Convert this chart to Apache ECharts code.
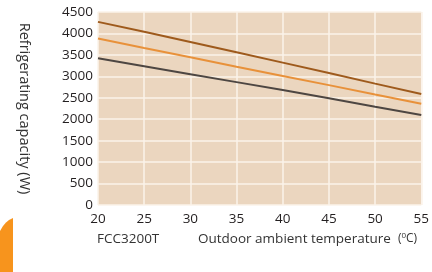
<!DOCTYPE html>
<html><head><meta charset="utf-8">
<script src="https://cdn.jsdelivr.net/npm/echarts@6/dist/echarts.min.js"></script>
<style>html,body{margin:0;padding:0;background:#fff}#c{width:432px;height:272px}</style>
</head><body><div id="c"></div>
<script>
const temps = [20, 25, 30, 35, 40, 45, 50, 55];
const seriesTop = [4270, 4040, 3800, 3560, 3320, 3080, 2830, 2590];
const seriesMid = [3880, 3660, 3445, 3225, 3010, 2795, 2575, 2360];
const seriesLow = [3420, 3235, 3050, 2865, 2680, 2490, 2290, 2100];
const yName = 'Refrigerating capacity (W)';
const modelName = 'FCC3200T';

function pts(arr){ return temps.map((t,i)=>[t, arr[i]]); }
const chart = echarts.init(document.getElementById('c'), null, {renderer:'canvas'});
const font = '"Open Sans", sans-serif';
chart.setOption({
  animation:false,
  backgroundColor:'#fff',
  grid:{left:98, right:5, top:12, bottom:67, show:true, backgroundColor:'#ebd6bf', borderWidth:0},
  xAxis:{type:'value', min:20, max:55, interval:5,
    axisLine:{show:false}, axisTick:{show:false},
    axisLabel:{color:'#231f20', fontSize:13.5, fontFamily:font, margin:7},
    splitLine:{show:true, lineStyle:{color:'#fbf3ea', width:1.5}}},
  yAxis:{type:'value', min:0, max:4500, interval:500,
    name:yName, nameLocation:'middle', nameRotate:-90, nameGap:66,
    nameTextStyle:{color:'#333', fontSize:14.5, fontFamily:font},
    axisLine:{show:false}, axisTick:{show:false},
    axisLabel:{color:'#231f20', fontSize:13.5, fontFamily:font, margin:5, formatter:v=>String(v)},
    splitLine:{show:true, lineStyle:{color:'#fbf3ea', width:1.5}}},
  series:[
    {type:'line', data:pts(seriesTop), symbol:'none', lineStyle:{color:'#9e5a1c', width:2}},
    {type:'line', data:pts(seriesMid), symbol:'none', lineStyle:{color:'#e8913a', width:2}},
    {type:'line', data:pts(seriesLow), symbol:'none', lineStyle:{color:'#4d4642', width:2}}
  ],
  graphic:[
    {type:'polygon', shape:{points:[[0,231],[3,226],[6,222.5],[9,220],[13,218],[13,272],[0,272]]}, style:{fill:'#f7941d'}},
    {type:'text', left:97, top:232, style:{text:modelName, fill:'#333', font:'13.5px '+font}},
    {type:'text', left:198, top:232, style:{
      text:'Outdoor ambient temperature  {p|(}{s|0}{u|C)}',
      fill:'#333', font:'13.5px '+font,
      rich:{p:{fontSize:12, fontFamily:font, fill:'#333'}, s:{fontSize:8, fontFamily:font, verticalAlign:'top', padding:[0,0,5,0], fill:'#333'}, u:{fontSize:12, fontFamily:font, fill:'#333'}}}}
  ]
});
</script></body></html>
